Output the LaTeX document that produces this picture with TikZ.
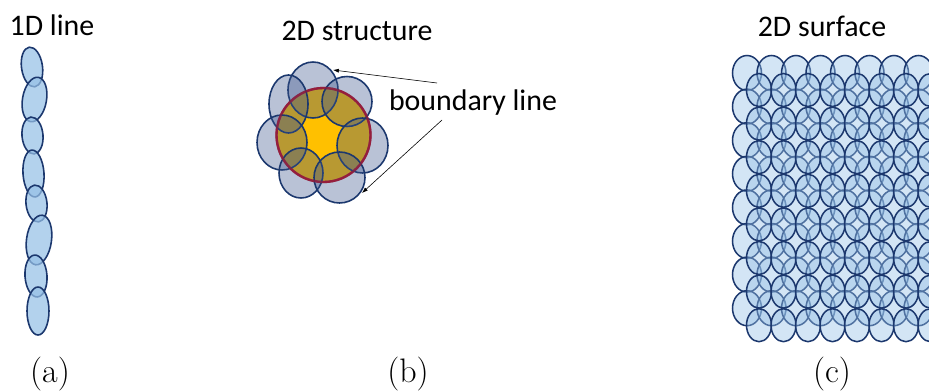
\documentclass[tikz,border=0pt]{standalone}
\usepackage{fontspec}
\newfontfamily\calfont{Carlito}
\usetikzlibrary{arrows.meta}
\definecolor{cellfill}{RGB}{150,192,230}
\definecolor{celldraw}{RGB}{28,56,110}
\definecolor{petalfill}{RGB}{60,85,140}
\definecolor{goldc}{RGB}{255,192,0}
\definecolor{ringred}{RGB}{165,22,48}
\begin{document}
\begin{tikzpicture}[x=0.03cm,y=-0.03cm,
  chaincell/.style={draw=celldraw, line width=1.35pt, fill=cellfill, fill opacity=0.72},
  gridcell/.style={draw=celldraw, line width=1.3pt, fill=cellfill, fill opacity=0.42},
  petal/.style={draw=celldraw, line width=1.35pt, fill=petalfill, fill opacity=0.36},
  core/.style={draw=ringred, line width=2pt, fill=goldc},
  title/.style={font=\calfont\fontsize{25.5}{29}\selectfont, inner sep=0pt},
  panel/.style={font=\fontsize{29}{33}\selectfont, inner sep=0pt},
  pointer/.style={draw=black, line width=0.5pt, -{Latex[length=5pt,width=3.5pt]}}]
\useasboundingbox (0,0) rectangle (929,390);

% ---------- (a) 1D line ----------
\node[title] (ta) at (52,25) {1D line};
\draw[chaincell] (32,67) ellipse [x radius=10.5, y radius=20, rotate=8];
\draw[chaincell] (34.5,99.5) ellipse [x radius=12, y radius=22.5, rotate=-10];
\draw[chaincell] (32.5,135.5) ellipse [x radius=10.5, y radius=18.5, rotate=5];
\draw[chaincell] (33.5,173.5) ellipse [x radius=10.5, y radius=23.5, rotate=4];
\draw[chaincell] (36.5,203.5) ellipse [x radius=10.5, y radius=18.5, rotate=6];
\draw[chaincell] (39,240) ellipse [x radius=12.5, y radius=25, rotate=-8];
\draw[chaincell] (36,276) ellipse [x radius=11, y radius=21, rotate=4];
\draw[chaincell] (38,311) ellipse [x radius=11, y radius=24, rotate=0];
\node[panel] (la) at (50,374) {(a)};

% ---------- (b) 2D structure ----------
\node[title] (tb) at (357,31) {2D structure};
\draw[core] (323.5,135) circle [radius=47];
\draw[petal] (313,90) ellipse [x radius=25, y radius=28];
\draw[petal] (288.5,104) ellipse [x radius=19.5, y radius=29];
\draw[petal] (347,101.5) ellipse [x radius=25, y radius=25];
\draw[petal] (282,142.5) ellipse [x radius=25, y radius=27.5];
\draw[petal] (362.5,145.5) ellipse [x radius=25.5, y radius=27.5];
\draw[petal] (301,173) ellipse [x radius=22, y radius=25];
\draw[petal] (339.5,177.5) ellipse [x radius=25.5, y radius=25.5];
\draw[ringred, line width=2pt, opacity=0.6] (323.5,135) circle [radius=47];
\node[title] (bl) at (473,103) {boundary line};
\coordinate (s1) at (437,83);
\coordinate (e1) at (333,70);
\coordinate (s2) at (442,120);
\coordinate (e2) at (362,193);
\draw[pointer] (s1) -- (e1);
\draw[pointer] (s2) -- (e2);
\node[panel] (lb) at (408,374) {(b)};

% ---------- (c) 2D surface ----------
\node[title] (tc) at (822,26) {2D surface};
\begin{scope}
\clip (700,40) rectangle (929,360);
\foreach \j in {0,...,7}{
  \foreach \i in {0,...,7}{
    \draw[gridcell] ({747+24.5*\i},{73+33.6*\j}) ellipse [x radius=14.5, y radius=17.5];
  }
}
\foreach \j in {0,...,7}{
  \foreach \i in {0,...,7}{
    \draw[gridcell] ({759+24.5*\i},{90+33.6*\j}) ellipse [x radius=12.5, y radius=16.5];
  }
}
\end{scope}
\node[panel] (lc) at (832,374) {(c)};
\end{tikzpicture}
\end{document}
